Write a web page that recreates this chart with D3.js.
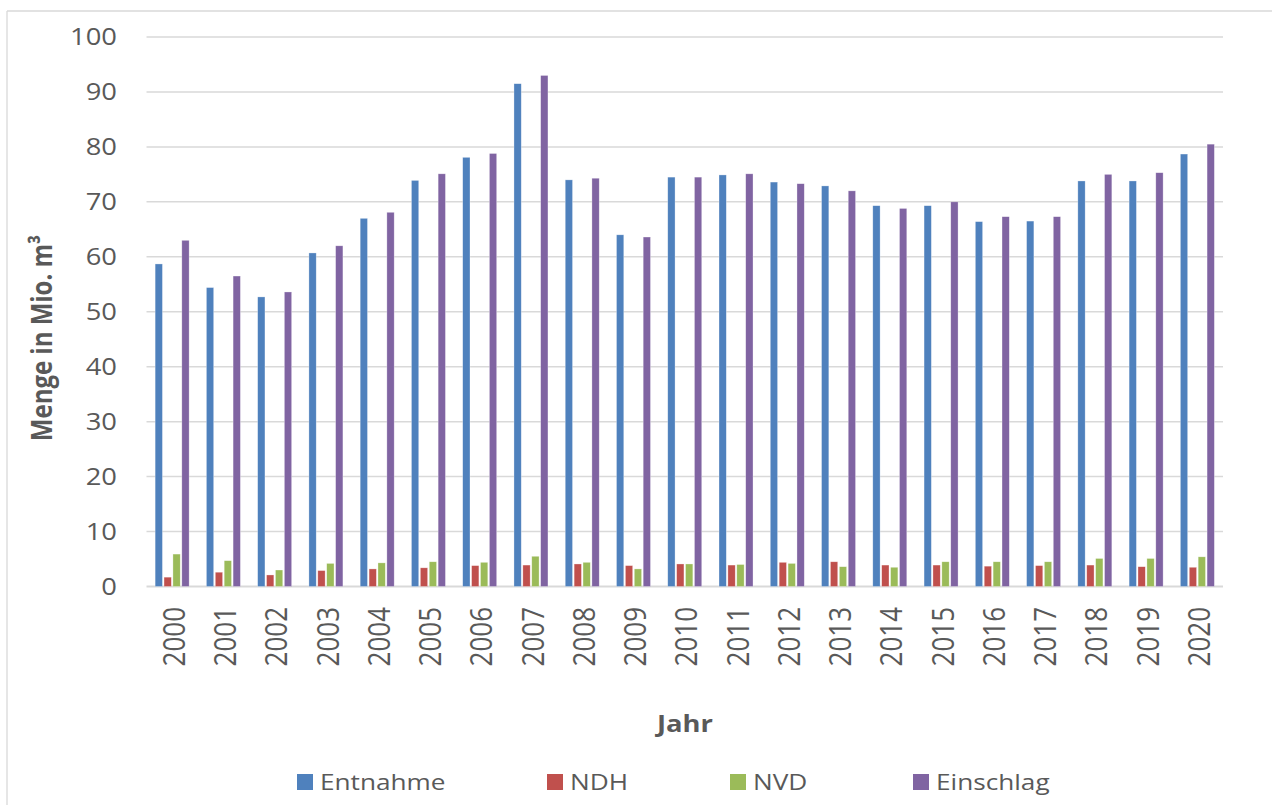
<!DOCTYPE html>
<html><head><meta charset="utf-8">
<script src="https://cdn.jsdelivr.net/npm/d3@7"></script>
<style>html,body{margin:0;padding:0;background:#fff;}svg{display:block;}</style>
</head><body>
<svg id="c" width="1272" height="805"></svg>
<script>
const years = ["2000","2001","2002","2003","2004","2005","2006","2007","2008","2009","2010","2011","2012","2013","2014","2015","2016","2017","2018","2019","2020"];
const seriesNames = ["Entnahme","NDH","NVD","Einschlag"];
const entnahme  = [58.7,54.4,52.7,60.7,67.0,73.9,78.1,91.5,74.0,64.0,74.5,74.9,73.6,72.9,69.3,69.3,66.4,66.5,73.8,73.8,78.7];
const ndh       = [1.7,2.6,2.1,2.9,3.2,3.4,3.8,3.9,4.1,3.8,4.1,3.9,4.4,4.5,3.9,3.9,3.7,3.8,3.9,3.6,3.5];
const nvd       = [5.9,4.7,3.0,4.2,4.3,4.5,4.4,5.5,4.4,3.2,4.1,4.0,4.2,3.6,3.5,4.5,4.5,4.5,5.1,5.1,5.4];
const einschlag = [63.0,56.5,53.6,62.0,68.1,75.1,78.8,93.0,74.3,63.6,74.5,75.1,73.3,72.0,68.8,70.0,67.3,67.3,75.0,75.3,80.5];
const yTicks = [0,10,20,30,40,50,60,70,80,90,100];
const colors = ["#4F81BD","#C0504D","#9BBB59","#8064A2"];
const values = [entnahme, ndh, nvd, einschlag];

const svg = d3.select("#c");
const txt = "#595959";
const font = "'Open Sans', sans-serif";
const SX = 1.19;

// outer border (top and left visible)
svg.append("line").attr("x1",7).attr("y1",11).attr("x2",1272).attr("y2",11).attr("stroke","#d9d9d9").attr("stroke-width",1.3);
svg.append("line").attr("x1",7).attr("y1",11).attr("x2",7).attr("y2",805).attr("stroke","#d9d9d9").attr("stroke-width",1.3);

const L = 146.5, R = 1223, T = 37, B = 586.5;
const x = d3.scaleBand().domain(years).range([L,R]).paddingInner(0).paddingOuter(0);
const xs = d3.scaleBand().domain(seriesNames).range([0,x.bandwidth()]).paddingInner(0.18).paddingOuter(0.97);
const y = d3.scaleLinear().domain([0,100]).range([B,T]);

// gridlines
svg.append("g").selectAll("line").data(yTicks).join("line")
  .attr("x1",L).attr("x2",R).attr("y1",d=>y(d)).attr("y2",d=>y(d))
  .attr("stroke","#d9d9d9").attr("stroke-width",d=>d===0?1.8:1.5);

// y tick labels
svg.append("g").selectAll("text").data(yTicks).join("text")
  .attr("transform",d=>`translate(117,${y(d)}) scale(${SX},1)`)
  .attr("text-anchor","end").attr("dy","0.36em")
  .attr("font-family",font).attr("font-size",23).attr("fill",txt)
  .text(d=>d);

// bars
const rows = [];
years.forEach((yr,i)=>seriesNames.forEach((s,j)=>rows.push({yr,s,j,v:values[j][i]})));
svg.append("g").selectAll("rect").data(rows).join("rect")
  .attr("x",d=>x(d.yr)+xs(d.s))
  .attr("width",xs.bandwidth())
  .attr("y",d=>y(d.v))
  .attr("height",d=>B-y(d.v))
  .attr("fill",d=>colors[d.j])
  .attr("stroke","#ffffff").attr("stroke-opacity",0.5).attr("stroke-width",0.6);

// x tick labels (rotated)
svg.append("g").selectAll("text").data(years).join("text")
  .attr("transform",d=>`translate(${x(d)+x.bandwidth()/2+1.5},607) scale(${SX},1) rotate(-90)`)
  .attr("text-anchor","end").attr("dy","0.36em")
  .attr("font-family",font).attr("font-size",26).attr("fill",txt)
  .text(d=>d);

// axis titles
svg.append("text").attr("transform",`translate(685,732) scale(${SX},1)`)
  .attr("text-anchor","middle").attr("font-family",font).attr("font-weight","bold")
  .attr("font-size",23).attr("fill",txt).text("Jahr");
svg.append("text").attr("transform",`translate(52,338) scale(${SX},1) rotate(-90)`)
  .attr("text-anchor","middle").attr("font-family",font).attr("font-weight","bold")
  .attr("font-size",24).attr("fill",txt).text("Menge in Mio. m³");

// legend
const legX = [297,547,730,913];
const lg = svg.append("g").selectAll("g").data(seriesNames).join("g")
  .attr("transform",(d,i)=>`translate(${legX[i]},782)`);
lg.append("rect").attr("x",0).attr("y",-8).attr("width",16).attr("height",16).attr("fill",(d,i)=>colors[i]);
lg.append("text").attr("transform",`translate(23,0) scale(${SX},1)`).attr("dy","0.36em")
  .attr("font-family",font).attr("font-size",22).attr("fill",txt).text(d=>d);
</script>
</body></html>
